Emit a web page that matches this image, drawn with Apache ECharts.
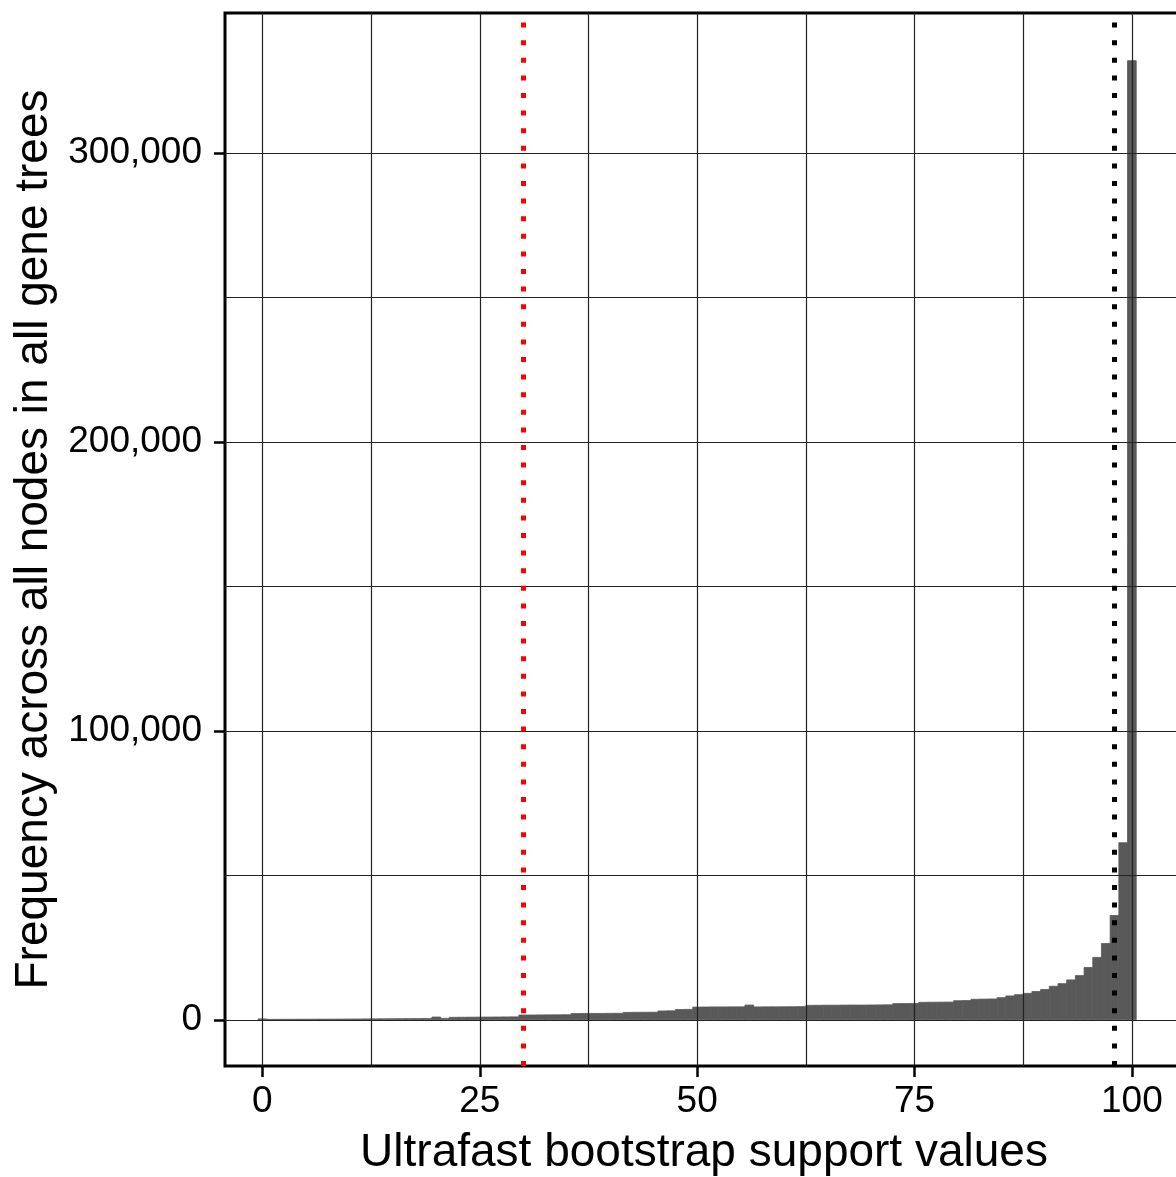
<!DOCTYPE html>
<html>
<head>
<meta charset="utf-8">
<script src="https://cdn.jsdelivr.net/npm/echarts@6/dist/echarts.min.js"></script>
<style>
html,body{margin:0;padding:0;background:#fff;}
#chart{width:1176px;height:1177px;}
</style>
</head>
<body>
<div id="chart"></div>
<script>
// Bootstrap support value bins (centered on integers 0..100, width 1)
const bins = [];
for (let i = 0; i <= 100; i++) bins.push(i);

// Frequency per bin
const counts = [
  300, 150, 160, 170, 180, 190, 200, 210, 220, 240,   // 0-9
  260, 280, 300, 320, 340, 360, 380, 400, 420, 450,   // 10-19
  950, 500, 850, 870, 900, 920, 940, 960, 980, 1000,  // 20-29
  1650, 1650, 1680, 1700, 1720, 1750, 2150, 2180, 2200, 2200, // 30-39
  2230, 2250, 2550, 2580, 2600, 2620, 3050, 3100, 3550, 3600, // 40-49
  4400, 4420, 4450, 4450, 4470, 4480, 5100, 4450, 4470, 4480, // 50-59
  4500, 4520, 4550, 5000, 5020, 5050, 5050, 5080, 5100, 5100, // 60-69
  5120, 5150, 5180, 5600, 5620, 5650, 6050, 6080, 6100, 6120, // 70-79
  6600, 6650, 7100, 7150, 7200, 7650, 8250, 8700, 9150, 9800, // 80-89
  10500, 11600, 12500, 13800, 15300, 18100, 21600, 26400, 36100, 61300, // 90-99
  332000 // 100
];

const xTicks = [0, 25, 50, 75, 100];
const yTicks = [0, 100000, 200000, 300000];
const xGrid = [0, 12.5, 25, 37.5, 50, 62.5, 75, 87.5, 100];
const yGrid = [0, 50000, 100000, 150000, 200000, 250000, 300000];
const redLineX = 30;
const blackLineX = 98;

const xTitle = 'Ultrafast bootstrap support values';
const yTitle = 'Frequency across all nodes in all gene trees';

const FONT = 'Liberation Sans';

const chart = echarts.init(document.getElementById('chart'), null, {renderer: 'canvas'});

const barData = bins.map((b, i) => [b, counts[i]]);

const gridLineStyle = {color: '#222', width: 1.2, type: 'solid'};

const option = {
  animation: false,
  backgroundColor: '#fff',
  grid: {
    left: 225, top: 13, width: 958, height: 1053,
    outerBoundsMode: 'none',
    show: true, borderColor: '#000', borderWidth: 3, backgroundColor: 'transparent',
    containLabel: false
  },
  xAxis: {
    type: 'value', min: -4.3, max: -4.3 + 958 / 8.695,
    splitLine: {show: false},
    axisLine: {show: false, onZero: false},
    axisTick: {show: true, length: 11, lineStyle: {color: '#000', width: 2.5}, customValues: xTicks},
    axisLabel: {show: true, customValues: xTicks, margin: 17, color: '#000', fontFamily: FONT, fontSize: 37},
    name: xTitle, nameLocation: 'middle', nameGap: 64,
    nameTextStyle: {color: '#000', fontFamily: FONT, fontSize: 46}
  },
  yAxis: {
    type: 'value', min: -16000, max: 348500,
    splitLine: {show: false},
    axisLine: {show: false, onZero: false},
    axisTick: {show: true, length: 11, lineStyle: {color: '#000', width: 2.5}, customValues: yTicks},
    axisLabel: {show: true, customValues: yTicks, margin: 23, color: '#000', fontFamily: FONT, fontSize: 37,
      formatter: v => Number(v).toLocaleString('en-US')},
    name: yTitle, nameLocation: 'middle', nameGap: 168,
    nameTextStyle: {color: '#000', fontFamily: FONT, fontSize: 46}
  },
  series: [
    {
      type: 'line', data: [], z: 1, silent: true,
      markLine: {
        silent: true, symbol: 'none', animation: false,
        label: {show: false},
        lineStyle: gridLineStyle,
        data: xGrid.map(v => ({xAxis: v})).concat(yGrid.map(v => ({yAxis: v})))
      }
    },
    {
      type: 'custom', z: 2, clip: true, silent: true,
      data: barData,
      encode: {x: 0, y: 1},
      renderItem: function (params, api) {
        const x = api.value(0), y = api.value(1);
        const p0 = api.coord([x - 0.5, 0]);
        const p1 = api.coord([x + 0.5, y]);
        return {
          type: 'rect',
          shape: {x: p0[0], y: p1[1], width: p1[0] - p0[0], height: p0[1] - p1[1]},
          style: {fill: '#595959', stroke: '#595959', lineWidth: 0.8}
        };
      },
      markLine: {
        silent: true, symbol: 'none', animation: false, z: 5,
        label: {show: false},
        data: [
          {xAxis: redLineX, lineStyle: {color: '#ff0000', width: 5, type: [5, 12.6], cap: 'butt'}},
          {xAxis: blackLineX, lineStyle: {color: '#000000', width: 5, type: [5, 12.6], cap: 'butt'}}
        ]
      }
    }
  ]
};

chart.setOption(option);
</script>
</body>
</html>
